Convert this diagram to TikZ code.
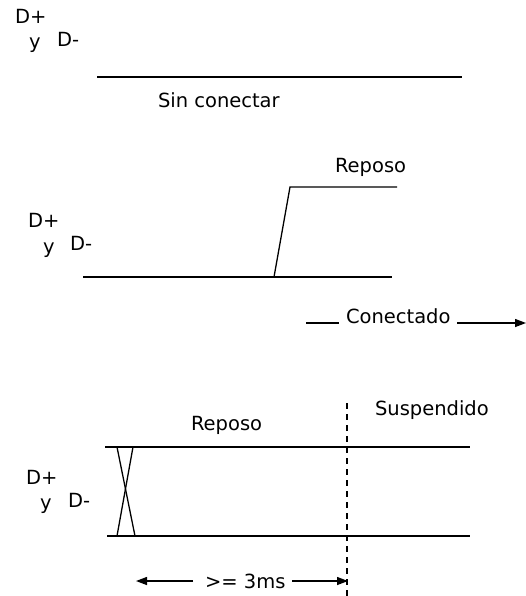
\documentclass[tikz,border=0pt]{standalone}
\usepackage{fontspec}
\setmainfont{DejaVu Sans}
\usetikzlibrary{arrows.meta}
\begin{document}
\begin{tikzpicture}[x=1pt,y=-1pt,
  wire/.style={line width=1.3pt,line cap=butt},
  lbl/.style={inner sep=0pt,outer sep=0pt,anchor=base west,font=\fontsize{19.5}{22}\selectfont},
  tipend/.style={-{Triangle[length=11pt,width=8pt]}},
  guide/.style={line width=1.4pt,dash pattern=on 6pt off 5pt}]
\useasboundingbox (0,0) rectangle (526,596);
% ---- section 1: Sin conectar
\node[lbl] (dp1) at (15,24) {D+};
\node[lbl] (y1) at (29,49) {y};
\node[lbl] (dm1) at (57,47) {D-};
\coordinate (a1) at (97,77);
\coordinate (b1) at (462,77);
\draw[wire] (a1) -- (b1);
\node[lbl] (sc) at (158,108) {Sin conectar};
% ---- section 2: Conectado
\node[lbl] (rp2) at (335,172) {Reposo};
\coordinate (h2s) at (290,187);
\coordinate (h2e) at (397,187);
\coordinate (l2s) at (83,277);
\coordinate (l2e) at (392,277);
\coordinate (r2) at (274,277);
\draw[wire] (l2s) -- (l2e);
\draw[wire] (r2) -- (h2s) -- (h2e);
\node[lbl] (dp2) at (28,227) {D+};
\node[lbl] (y2) at (43,253) {y};
\node[lbl] (dm2) at (70,250) {D-};
\node[lbl] (con) at (346,323) {Conectado};
\coordinate (c0) at (306,323);
\coordinate (c1) at (339,323);
\coordinate (c2) at (457,323);
\coordinate (c3) at (526,323);
\draw[wire] (c0) -- (c1);
\draw[wire,tipend] (c2) -- (c3);
% ---- section 3: Suspendido
\node[lbl] (susp) at (375,415) {Suspendido};
\node[lbl] (rp3) at (191,430) {Reposo};
\coordinate (t3s) at (105,447);
\coordinate (t3e) at (470,447);
\coordinate (b3s) at (107,536);
\coordinate (b3e) at (470,536);
\draw[wire] (t3s) -- (t3e);
\draw[wire] (b3s) -- (b3e);
\coordinate (xa) at (117,447);
\coordinate (xb) at (135,536);
\coordinate (xc) at (133,447);
\coordinate (xd) at (117,536);
\draw[wire] (xa) -- (xb);
\draw[wire] (xc) -- (xd);
\coordinate (g0) at (347,403);
\coordinate (g1) at (347,596);
\draw[guide] (g0) -- (g1);
\node[lbl] (dp3) at (26,484) {D+};
\node[lbl] (y3) at (40,509) {y};
\node[lbl] (dm3) at (68,507) {D-};
\node[lbl] (ms) at (205,588) {>= 3ms};
\coordinate (m0) at (193,581);
\coordinate (m1) at (136,581);
\coordinate (m2) at (292,581);
\coordinate (m3) at (348,581);
\draw[wire,tipend] (m0) -- (m1);
\draw[wire,tipend] (m2) -- (m3);
\end{tikzpicture}
\end{document}
